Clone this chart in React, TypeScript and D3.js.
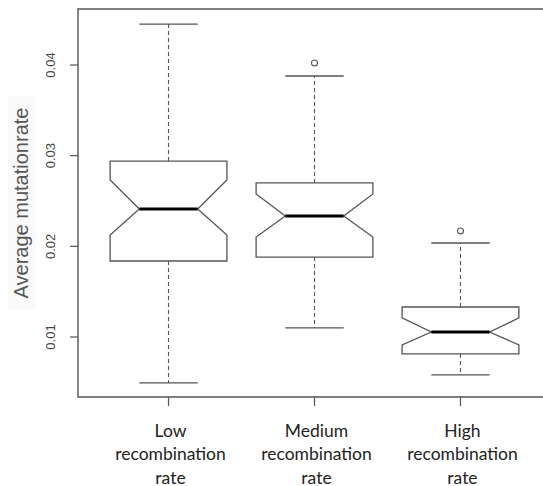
import React from "react";
import * as d3 from "d3";

const categories = ["Low", "Medium", "High"];
const labelLines = [
  ["Low", "recombination", "rate"],
  ["Medium", "recombination", "rate"],
  ["High", "recombination", "rate"],
];
const whiskerLow = [0.00493, 0.011, 0.00581];
const q1 = [0.01838, 0.01882, 0.00813];
const median = [0.02412, 0.02335, 0.01055];
const q3 = [0.02941, 0.02699, 0.01331];
const whiskerHigh = [0.04452, 0.03879, 0.02037];
const notchLow = [0.02125, 0.02103, 0.00912];
const notchHigh = [0.02732, 0.02577, 0.0121];
const outliers = [[], [0.04022], [0.02169]];
const yTicks = [0.01, 0.02, 0.03, 0.04];

const width = 543;
const height = 486;
const margin = { top: 9, right: -8, bottom: 89, left: 78 };

const lineColor = "#555";

export default function App() {
  const plotRight = width - margin.right;
  const plotBottom = height - margin.bottom;

  const x = d3
    .scaleLinear()
    .domain([-0.62, categories.length - 1 + 0.62])
    .range([margin.left, plotRight]);
  const y = d3
    .scaleLinear()
    .domain([0.00338, 0.04618])
    .range([plotBottom, margin.top]);

  const unit = x(1) - x(0);
  const half = (unit * 0.8) / 2;
  const cap = half / 2;

  return (
    <div style={{ position: "absolute", left: 0, top: 0 }}>
      <svg width={width} height={height} style={{ display: "block", background: "#fff" }}>
        {/* axis frame, right side runs off the picture */}
        <path
          d={`M${plotRight},${margin.top}H${margin.left}V${plotBottom}H${plotRight}`}
          fill="none"
          stroke={lineColor}
          strokeWidth={1.4}
        />

        {/* y axis */}
        {yTicks.map((t) => (
          <g key={t}>
            <line x1={margin.left - 8} x2={margin.left} y1={y(t)} y2={y(t)} stroke={lineColor} strokeWidth={1.2} />
            <text
              transform={`translate(50,${y(t)}) rotate(-90)`}
              textAnchor="middle"
              dominantBaseline="central"
              fontFamily="Liberation Sans, Arial, sans-serif"
              fontSize={13}
              fill="#444"
            >
              {d3.format(".2f")(t)}
            </text>
          </g>
        ))}
        <rect x={8} y={96} width={28} height={214} fill="#fafafa" />
        <text
          transform={`translate(21,${203}) rotate(-90)`}
          textAnchor="middle"
          dominantBaseline="central"
          fontFamily="Liberation Sans, Arial, sans-serif"
          fontSize={20}
          fill="#555"
        >
          Average mutationrate
        </text>

        {/* x axis ticks + labels */}
        {categories.map((c, i) => (
          <g key={c}>
            <line x1={x(i)} x2={x(i)} y1={plotBottom} y2={plotBottom + 9} stroke={lineColor} strokeWidth={1.2} />
            {labelLines[i].map((ln, j) => (
              <text
                key={j}
                x={x(i) + 2}
                y={plotBottom + 33 + j * 23.5}
                dominantBaseline="central"
                textAnchor="middle"
                fontFamily="Lato, sans-serif"
                fontSize={17.5}
                fill="#222"
              >
                {ln}
              </text>
            ))}
          </g>
        ))}

        {/* boxes */}
        {categories.map((c, i) => {
          const cx = x(i);
          const box = [
            [cx - half, y(q1[i])],
            [cx + half, y(q1[i])],
            [cx + half, y(notchLow[i])],
            [cx + half / 2, y(median[i])],
            [cx + half, y(notchHigh[i])],
            [cx + half, y(q3[i])],
            [cx - half, y(q3[i])],
            [cx - half, y(notchHigh[i])],
            [cx - half / 2, y(median[i])],
            [cx - half, y(notchLow[i])],
          ] as [number, number][];
          return (
            <g key={c}>
              <line x1={cx} x2={cx} y1={y(q3[i])} y2={y(whiskerHigh[i])} stroke={lineColor} strokeWidth={1.1} strokeDasharray="4,3" />
              <line x1={cx} x2={cx} y1={y(q1[i])} y2={y(whiskerLow[i])} stroke={lineColor} strokeWidth={1.1} strokeDasharray="4,3" />
              <line x1={cx - cap} x2={cx + cap} y1={y(whiskerHigh[i])} y2={y(whiskerHigh[i])} stroke={lineColor} strokeWidth={1.3} />
              <line x1={cx - cap} x2={cx + cap} y1={y(whiskerLow[i])} y2={y(whiskerLow[i])} stroke={lineColor} strokeWidth={1.3} />
              <path d={d3.line()(box) + "Z"} fill="#fff" stroke={lineColor} strokeWidth={1.3} />
              <line x1={cx - half / 2} x2={cx + half / 2} y1={y(median[i])} y2={y(median[i])} stroke="#000" strokeWidth={3} />
              {outliers[i].map((o, k) => (
                <circle key={k} cx={cx} cy={y(o)} r={3} fill="none" stroke={lineColor} strokeWidth={1.1} />
              ))}
            </g>
          );
        })}
      </svg>
    </div>
  );
}
